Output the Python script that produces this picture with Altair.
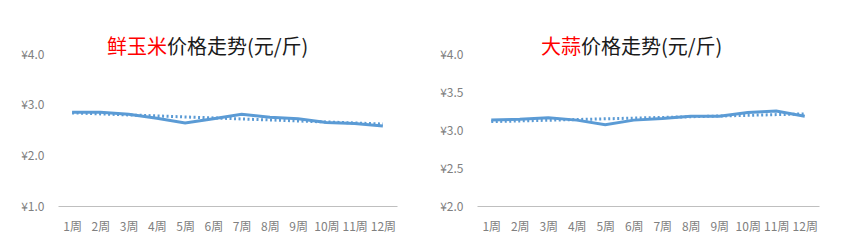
import altair as alt
import pandas as pd

weeks = list(range(1, 13))
corn = [2.85, 2.85, 2.81, 2.73, 2.64, 2.72, 2.81, 2.75, 2.72, 2.65, 2.63, 2.58]
garlic = [3.13, 3.14, 3.16, 3.13, 3.07, 3.13, 3.15, 3.18, 3.18, 3.23, 3.25, 3.18]
titles_red = ["鲜玉米", "大蒜"]
titles_black = ["价格走势(元/斤)", "价格走势(元/斤)"]
corn_ticks = [1.0, 2.0, 3.0, 4.0]
garlic_ticks = [2.0, 2.5, 3.0, 3.5, 4.0]

FONT = "Noto Sans CJK SC"
BLUE = "#5B9BD5"


def panel(values, ticks, domain, red, black, split_x, width):
    df = pd.DataFrame({"week": weeks, "price": values})
    base = alt.Chart(df)
    x = alt.X("week:Q", scale=alt.Scale(domain=[0.5, 12.5], nice=False, zero=False),
              axis=alt.Axis(values=weeks, labelExpr="datum.value + '周'", title=None,
                            grid=False, ticks=False, domainColor="#BFBFBF",
                            labelColor="#808080", labelFontSize=12, labelFont=FONT,
                            labelPadding=15))
    y = alt.Y("price:Q", scale=alt.Scale(domain=domain, nice=False, zero=False),
              axis=alt.Axis(values=ticks, labelExpr="'¥' + format(datum.value, '.1f')",
                            title=None, grid=False, ticks=False, domain=False,
                            labelColor="#808080", labelFontSize=12, labelFont=FONT,
                            labelPadding=14, minExtent=38, maxExtent=38))
    trend = base.transform_regression("week", "price").mark_line(
        color=BLUE, strokeWidth=3, strokeDash=[2, 2.5]).encode(x=x, y=y)
    line = base.mark_line(color=BLUE, strokeWidth=3).encode(x=x, y=y)
    tdf = pd.DataFrame({"r": [red], "b": [black]})
    t_red = alt.Chart(tdf).mark_text(color="#FF0000", fontSize=20, font=FONT, align="right",
                                     baseline="middle").encode(
        text="r:N", x=alt.value(split_x), y=alt.value(-6))
    t_black = alt.Chart(tdf).mark_text(color="#1a1a1a", fontSize=20, font=FONT, align="left",
                                       baseline="middle").encode(
        text="b:N", x=alt.value(split_x), y=alt.value(-6))
    return alt.layer(trend, line, t_red, t_black).properties(width=width, height=152)


left = panel(corn, corn_ticks, [1.0, 4.0], titles_red[0], titles_black[0], 109, 339)
right = panel(garlic, garlic_ticks, [2.0, 4.0], titles_red[1], titles_black[1], 104, 342)

chart = alt.hconcat(left, right, spacing=42).properties(
    padding={"left": 20, "top": 38, "right": 5, "bottom": 0},
    background="white",
).configure_view(stroke=None)

chart.save("out.html", embed_options={"renderer": "svg", "actions": False})
